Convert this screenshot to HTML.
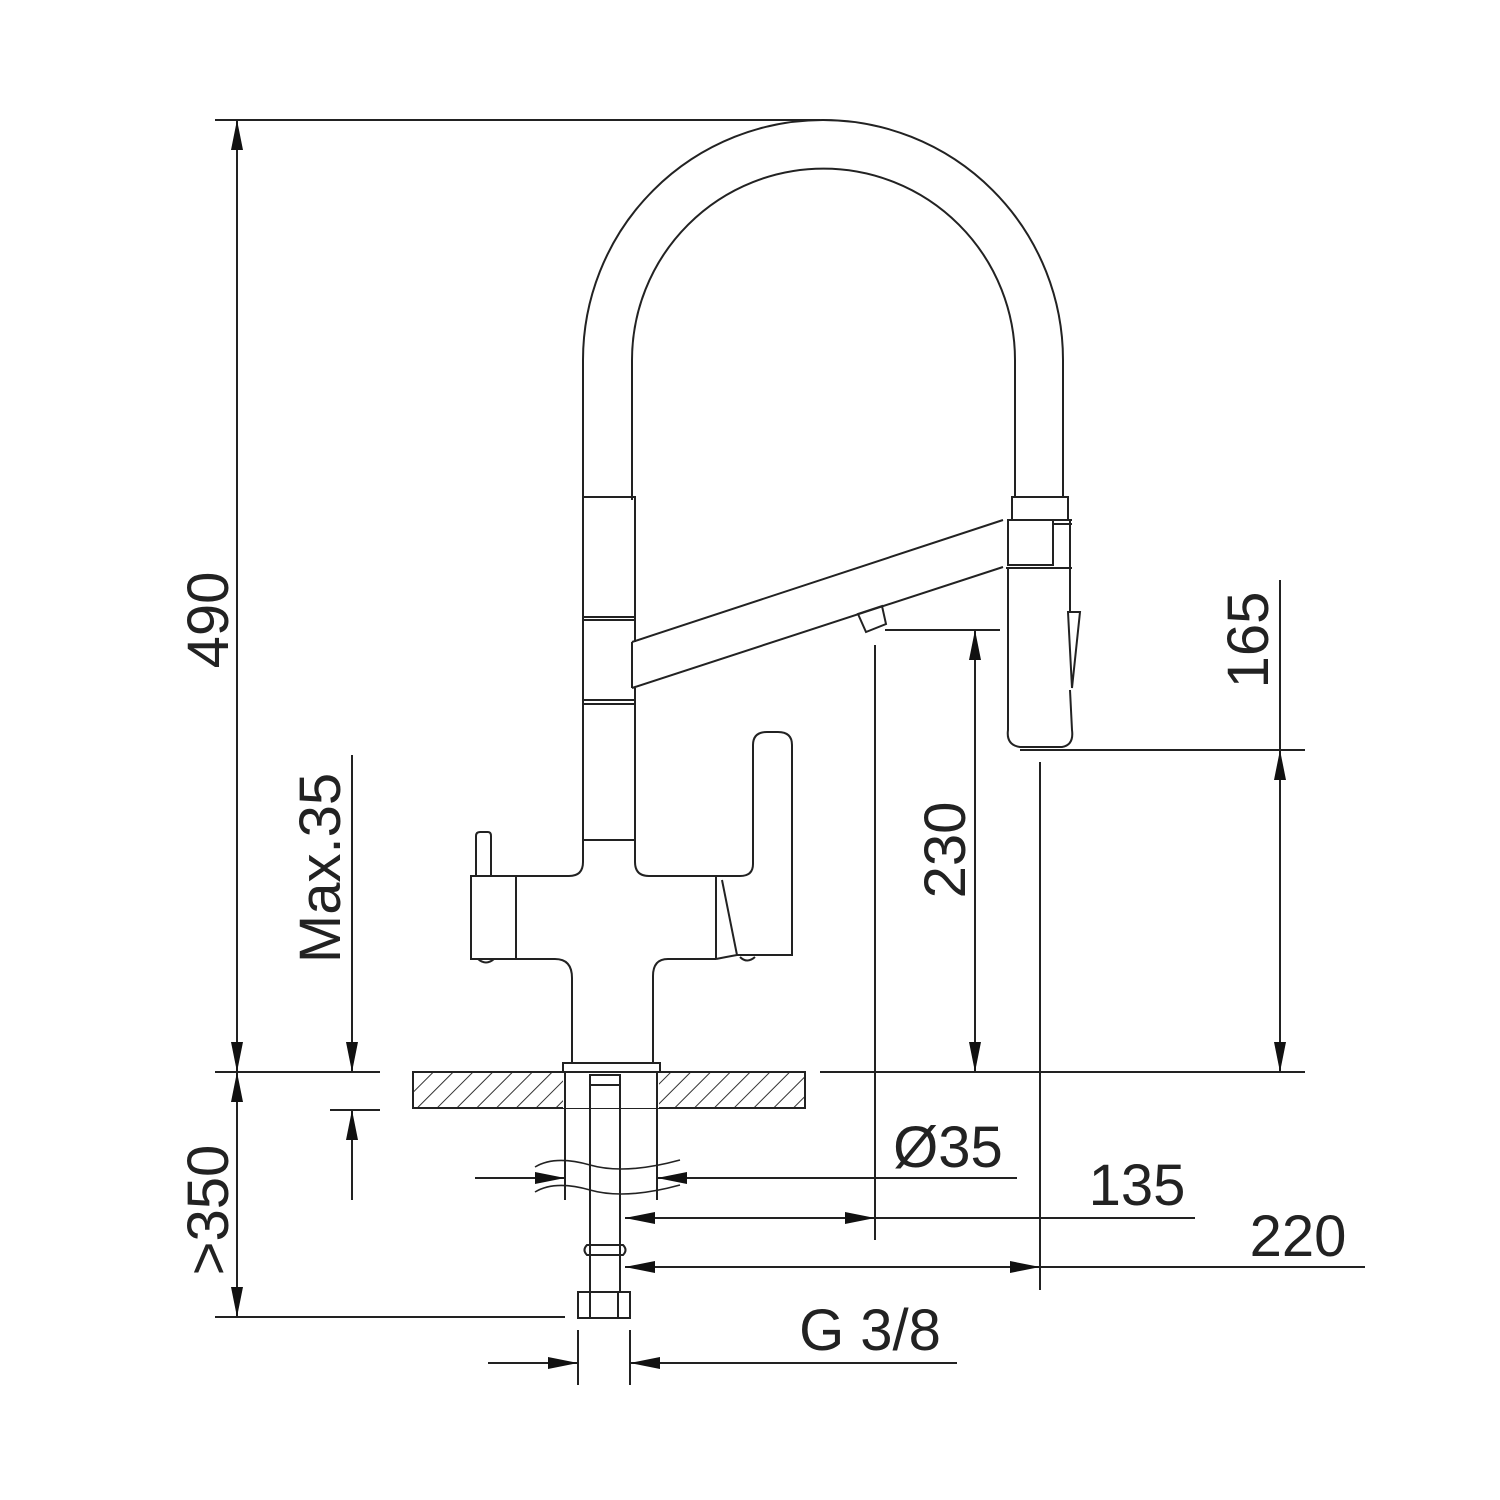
<!DOCTYPE html>
<html><head><meta charset="utf-8"><style>
html,body{margin:0;padding:0;background:#fff}
svg{display:block}
text{font-family:"Liberation Sans",sans-serif;fill:#222}
</style></head><body>
<svg width="1500" height="1500" viewBox="0 0 1500 1500" xmlns="http://www.w3.org/2000/svg">
<defs>
<marker id="a" viewBox="0 0 30 12" refX="30" refY="6" markerWidth="30" markerHeight="12" markerUnits="userSpaceOnUse" orient="auto-start-reverse"><path d="M0,0 L30,6 L0,12 z" fill="#111"/></marker>
<pattern id="h" width="14" height="14" patternUnits="userSpaceOnUse" patternTransform="rotate(45)"><line x1="0" y1="0" x2="0" y2="14" stroke="#333" stroke-width="2"/></pattern>
</defs>
<g fill="none" stroke="#222" stroke-width="2">
<line x1="215" y1="120" x2="820" y2="120"/>
<line x1="215" y1="1072" x2="380" y2="1072"/>
<line x1="820" y1="1072" x2="1305" y2="1072"/>
<line x1="215" y1="1317" x2="565" y2="1317"/>
<line x1="237" y1="120" x2="237" y2="1072" marker-start="url(#a)" marker-end="url(#a)"/>
<line x1="237" y1="1072" x2="237" y2="1317" marker-start="url(#a)" marker-end="url(#a)"/>
<line x1="352" y1="755" x2="352" y2="1072" marker-end="url(#a)"/>
<line x1="352" y1="1200" x2="352" y2="1110" marker-end="url(#a)"/>
<line x1="330" y1="1110" x2="380" y2="1110"/>
<rect x="413" y="1072" width="392" height="36" fill="url(#h)"/>
<rect x="563" y="1072" width="96" height="36" fill="#fff" stroke="none"/>
<path d="M583,500 L583,360 A240,240 0 0 1 1063,360 L1063,497"/>
<path d="M632,500 L632,360 A191.5,191.5 0 0 1 1015,360 L1015,497"/>
<rect x="583" y="497" width="52" height="120"/>
<line x1="583" y1="620" x2="635" y2="620"/>
<line x1="583" y1="700" x2="635" y2="700"/>
<line x1="583" y1="704" x2="635" y2="704"/>
<line x1="583" y1="617" x2="583" y2="840"/>
<line x1="635" y1="617" x2="635" y2="642"/>
<line x1="635" y1="688" x2="635" y2="840"/>
<line x1="583" y1="840" x2="635" y2="840"/>
<path d="M632,642 L1003,520 M632,688 L1003,567 M632,642 L632,688"/>
<path d="M858,614 L882,606 L886,624 L866,632 Z"/>
<rect x="1012" y="497" width="56" height="23"/>
<rect x="1008" y="520" width="45" height="45"/>
<line x1="1053" y1="520" x2="1072" y2="520"/>
<line x1="1053" y1="524" x2="1072" y2="524"/>
<line x1="1070" y1="520" x2="1070" y2="612"/>
<line x1="1006" y1="568" x2="1072" y2="568"/>
<path d="M1008,568 L1008,730 Q1006,745 1020,747 L1062,747 Q1074,745 1072,730 L1070,690"/>
<path d="M1068,612 L1080,612 L1072,688 Z"/>
<path d="M583,840 L583,862 Q583,876 569,876 L515,876"/>
<path d="M635,840 L635,862 Q635,876 649,876 L716,876"/>
<path d="M476,876 L476,836 Q476,832 480,832 L488,832 Q491,832 491,836 L491,876"/>
<rect x="471" y="876" width="45" height="83"/>
<path d="M516,959 L555,959 Q572,959 572,978 L572,1062"/>
<path d="M716,959 L668,959 Q653,959 653,976 L653,1062"/>
<line x1="716" y1="876" x2="716" y2="959"/>
<path d="M722,880 L737,955 M716,959 Q726,957 737,955 L792,955 L792,745 Q792,732 778,732 L767,732 Q753,732 753,745 L753,864 Q753,876 740,876 L716,876"/>
<path d="M740,957 Q747,964 755,957 M478,959 Q486,966 494,959"/>
<rect x="563" y="1063" width="97" height="9"/>
<line x1="565" y1="1072" x2="565" y2="1200"/>
<line x1="657" y1="1072" x2="657" y2="1200"/>
<rect x="590" y="1075" width="30" height="10"/>
<line x1="590" y1="1085" x2="590" y2="1292"/>
<line x1="620" y1="1085" x2="620" y2="1292"/>
<path d="M587,1245 Q582,1250 587,1255 L623,1255 Q628,1250 623,1245 Z"/>
<rect x="578" y="1292" width="52" height="26"/>
<line x1="590" y1="1292" x2="590" y2="1318"/><line x1="618" y1="1292" x2="618" y2="1318"/>
<path d="M535,1167 Q555,1155 590,1165 T680,1160 M535,1192 Q555,1180 590,1190 T680,1185" stroke-width="1.6"/>
<line x1="475" y1="1178" x2="565" y2="1178" marker-end="url(#a)"/>
<line x1="1017" y1="1178" x2="657" y2="1178" marker-end="url(#a)"/>
<line x1="875" y1="645" x2="875" y2="1240"/>
<line x1="625" y1="1218" x2="875" y2="1218" marker-start="url(#a)" marker-end="url(#a)"/>
<line x1="875" y1="1218" x2="1195" y2="1218"/>
<line x1="1040" y1="762" x2="1040" y2="1290"/>
<line x1="625" y1="1267" x2="1040" y2="1267" marker-start="url(#a)" marker-end="url(#a)"/>
<line x1="1040" y1="1267" x2="1365" y2="1267"/>
<line x1="578" y1="1330" x2="578" y2="1385"/>
<line x1="630" y1="1330" x2="630" y2="1385"/>
<line x1="488" y1="1363" x2="578" y2="1363" marker-end="url(#a)"/>
<line x1="957" y1="1363" x2="630" y2="1363" marker-end="url(#a)"/>
<line x1="885" y1="630" x2="1000" y2="630"/>
<line x1="975" y1="630" x2="975" y2="1072" marker-start="url(#a)" marker-end="url(#a)"/>
<line x1="1280" y1="580" x2="1280" y2="750"/>
<line x1="1020" y1="750" x2="1305" y2="750"/>
<line x1="1280" y1="750" x2="1280" y2="1072" marker-start="url(#a)" marker-end="url(#a)"/>
</g>
<g font-size="58">
<text transform="translate(228,620) rotate(-90)" text-anchor="middle">490</text>
<text transform="translate(340,868) rotate(-90)" text-anchor="middle">Max.35</text>
<text transform="translate(228,1210) rotate(-90)" text-anchor="middle">&gt;350</text>
<text transform="translate(965,850) rotate(-90)" text-anchor="middle">230</text>
<text transform="translate(1268,640) rotate(-90)" text-anchor="middle">165</text>
<text x="948" y="1167" text-anchor="middle">Ø35</text>
<text x="1137" y="1205" text-anchor="middle">135</text>
<text x="1298" y="1256" text-anchor="middle">220</text>
<text x="870" y="1350" text-anchor="middle">G 3/8</text>
</g>
</svg>
</body></html>
